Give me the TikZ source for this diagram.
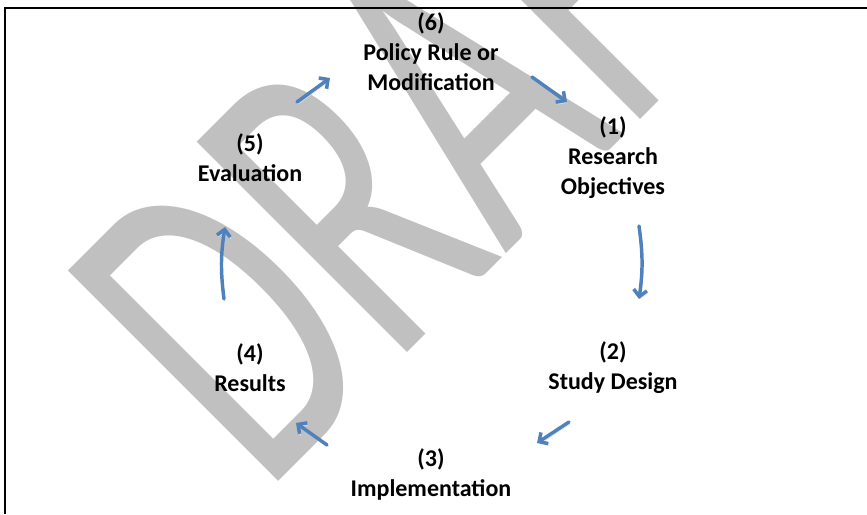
\documentclass[tikz,border=0pt]{standalone}
\usepackage{fontspec}
\setmainfont{Carlito}
\usetikzlibrary{arrows.meta}
\definecolor{cycleblue}{RGB}{79,129,189}
\definecolor{draftgray}{RGB}{192,192,192}
\begin{document}
\begin{tikzpicture}[x=0.75pt,y=0.75pt,
  main node/.style={align=center,font=\fontsize{18}{22.5}\selectfont\bfseries},
  flow/.style={-{Straight Barb[length=5pt,width=10pt]},draw=cycleblue,line width=2.6pt,line cap=round,
    preaction={draw=black!12,transform canvas={shift={(0.8pt,-1.6pt)}}}}]
\useasboundingbox (0,0) rectangle (867,514);
% watermark
\begin{scope}
  \clip (0,0) rectangle (867,514);
  \begin{scope}[shift={(264,18)},rotate=45,xscale=0.68,yscale=1.07]
    \node[transform shape,anchor=base west,inner sep=0pt,text=draftgray,font=\fontsize{325}{325}\selectfont] (draft) {DRAFT};
  \end{scope}
\end{scope}
% frame
\draw[line width=1.6pt] (5,0) -- (5,506) -- (867,506);
% stages
\node[main node] (6) at (431,462) {(6)\\Policy Rule or\\Modification};
\node[main node] (1) at (613,356) {(1)\\Research\\Objectives};
\node[main node] (2) at (613,146) {(2)\\Study Design};
\node[main node] (3) at (431,40)  {(3)\\Implementation};
\node[main node] (4) at (250,146) {(4)\\Results};
\node[main node] (5) at (250,356) {(5)\\Evaluation};
% arrow ends
\coordinate (s61) at (532,437); \coordinate (e61) at (567,412);
\coordinate (s12) at (639,288); \coordinate (e12) at (639,215);
\coordinate (s23) at (569,92);  \coordinate (e23) at (537,71);
\coordinate (s34) at (327,69);  \coordinate (e34) at (296,91);
\coordinate (s45) at (224,215); \coordinate (e45) at (225,287);
\coordinate (s56) at (297,412); \coordinate (e56) at (330,436);
\draw[flow] (s61) -- (e61);
\draw[flow] (s12) to[bend left=8] (e12);
\draw[flow] (s23) -- (e23);
\draw[flow] (s34) -- (e34);
\draw[flow] (s45) to[bend left=8] (e45);
\draw[flow] (s56) -- (e56);
\end{tikzpicture}
\end{document}
